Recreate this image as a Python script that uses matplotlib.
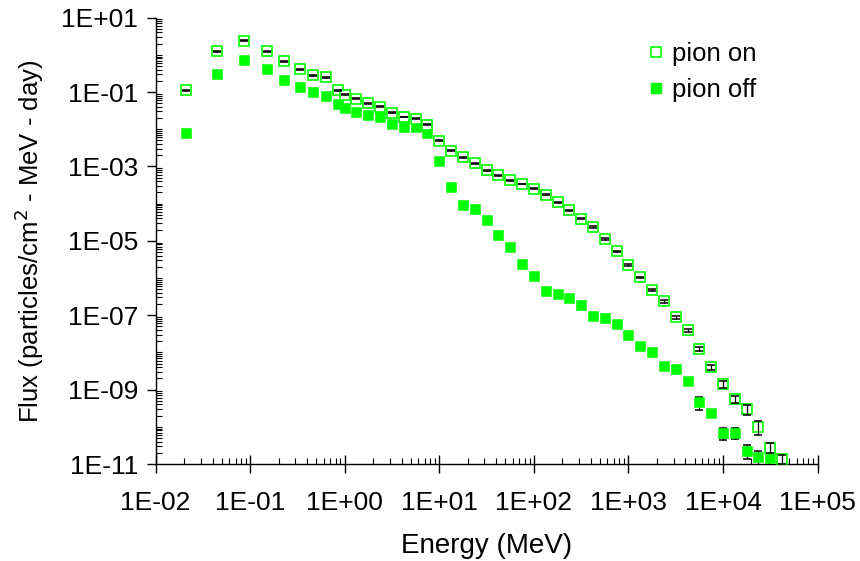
import numpy as np
import matplotlib
matplotlib.use("Agg")
import matplotlib.pyplot as plt
from matplotlib.ticker import FixedLocator, LogLocator, FuncFormatter, NullFormatter
from matplotlib.lines import Line2D

plt.rcParams['font.family'] = ['Liberation Sans', 'DejaVu Sans']

# ---- data ----
energy_on = [0.0211, 0.0443, 0.086, 0.150, 0.230, 0.337, 0.467, 0.640, 0.857,
             1.0, 1.33, 1.78, 2.37, 3.16, 4.22, 5.62, 7.50,
             10.0, 13.3, 17.8, 23.7, 31.6, 42.2, 56.2, 75.0,
             100, 133, 178, 237, 316, 422, 562, 750,
             1000, 1330, 1780, 2370, 3160, 4220, 5620, 7500,
             10000, 13300, 17800, 23700, 31600, 42200]
flux_on = [0.113, 1.26, 2.39, 1.26, 0.668, 0.415, 0.286, 0.253, 0.111,
           0.0851, 0.0661, 0.0501, 0.0403, 0.0278, 0.0213, 0.0192, 0.0132,
           4.91e-3, 2.64e-3, 1.76e-3, 1.21e-3, 8.0e-4, 5.75e-4, 4.31e-4, 3.37e-4,
           2.51e-4, 1.73e-4, 1.10e-4, 6.61e-5, 3.93e-5, 2.31e-5, 1.12e-5, 5.22e-6,
           2.28e-6, 1.04e-6, 4.84e-7, 2.34e-7, 8.79e-8, 4.0e-8, 1.21e-8, 3.97e-9,
           1.42e-9, 5.48e-10, 2.95e-10, 1.01e-10, 2.75e-11, 1.35e-11]
relerr_on = [0.03] * 9 + [0.03] * 8 + [0.03] * 8 + \
            [0.03, 0.03, 0.03, 0.04, 0.04, 0.05, 0.05, 0.05] + \
            [0.05, 0.05, 0.06, 0.07, 0.09, 0.09, 0.12, 0.15] + \
            [0.22, 0.22, 0.30, 0.42, 0.30, 0.27]

energy_off = energy_on[:-1]
flux_off = [7.76e-3, 0.310, 0.711, 0.407, 0.210, 0.139, 0.0982, 0.078, 0.0475,
            0.0363, 0.029, 0.0241, 0.0209, 0.0141, 0.0112, 0.0112, 7.76e-3,
            1.42e-3, 2.79e-4, 8.99e-5, 7.29e-5, 3.63e-5, 1.41e-5, 6.81e-6, 2.43e-6,
            1.15e-6, 4.47e-7, 3.72e-7, 2.84e-7, 1.88e-7, 9.5e-8, 8.41e-8, 5.92e-8,
            2.94e-8, 1.49e-8, 1.03e-8, 4.4e-9, 3.52e-9, 1.70e-9, 4.56e-10, 2.40e-10,
            6.93e-11, 6.93e-11, 2.29e-11, 1.58e-11, 1.48e-11]
relerr_off = [0.03] * 38 + [0.10, 0.37, 0.15, 0.35, 0.33, 0.40, 0.45, 0.45]

labels = ["pion on", "pion off"]
green = "#00ff00"

fig = plt.figure(figsize=(8.6, 5.61), dpi=100)
ax = fig.add_axes([0.181, 0.1729, 0.9506 - 0.181, 0.9686 - 0.1729])

e_on = np.array(energy_on); f_on = np.array(flux_on); r_on = np.array(relerr_on)
e_off = np.array(energy_off); f_off = np.array(flux_off); r_off = np.array(relerr_off)

# pion off: error bars beneath filled markers
ax.errorbar(e_off, f_off, yerr=f_off * r_off, fmt='none', ecolor='black',
            elinewidth=0.9, capsize=3, capthick=1.1, zorder=2)
ax.plot(e_off, f_off, linestyle='none', marker='s', markersize=7.6,
        markerfacecolor=green, markeredgecolor=green, markeredgewidth=0.4, zorder=3)

# pion on: hollow markers with error bars visible inside
ax.plot(e_on, f_on, linestyle='none', marker='s', markersize=6.8,
        markerfacecolor='white', markeredgecolor=green, markeredgewidth=1.2, zorder=4)
ax.errorbar(e_on, f_on, yerr=f_on * r_on, fmt='none', ecolor='black',
            elinewidth=0.9, capsize=3, capthick=1.1, zorder=5)

ax.set_xscale('log')
ax.set_yscale('log')
ax.set_xlim(1e-2, 1e5)
ax.set_ylim(1e-11, 1e1)

def fmt(v, pos):
    e = int(round(np.log10(v)))
    return "1E%+03d" % e

ax.xaxis.set_major_locator(FixedLocator([10.0 ** k for k in range(-2, 6)]))
ax.xaxis.set_minor_locator(LogLocator(base=10, subs=np.arange(2, 10), numticks=50))
ax.yaxis.set_major_locator(FixedLocator([10.0 ** k for k in range(-11, 2, 2)]))
ax.yaxis.set_minor_locator(FixedLocator(
    [m * 10.0 ** k for k in range(-11, 1) for m in range(1, 10) if not (m == 1 and (k % 2 != 0))]))
ax.xaxis.set_major_formatter(FuncFormatter(fmt))
ax.yaxis.set_major_formatter(FuncFormatter(fmt))
ax.xaxis.set_minor_formatter(NullFormatter())
ax.yaxis.set_minor_formatter(NullFormatter())

ax.tick_params(axis='x', which='major', direction='inout', length=13, width=1.0,
               labelsize=19, pad=13)
ax.tick_params(axis='x', which='minor', direction='in', length=4.5, width=0.8)
ax.tick_params(axis='y', which='major', direction='out', length=6.5, width=1.0,
               labelsize=19, pad=6)
ax.tick_params(axis='y', which='minor', direction='in', length=4, width=0.8)

for s in ['top', 'right']:
    ax.spines[s].set_visible(False)
for s in ['left', 'bottom']:
    ax.spines[s].set_linewidth(1.0)

ax.set_xlabel("Energy (MeV)", fontsize=20, labelpad=13)
ax.set_ylabel("Flux (particles/cm$^2$ - MeV - day)", fontsize=18.5, labelpad=11)

handles = [Line2D([], [], linestyle='none', marker='s', markersize=6.8,
                  markerfacecolor='white', markeredgecolor=green, markeredgewidth=1.2),
           Line2D([], [], linestyle='none', marker='s', markersize=7.6,
                  markerfacecolor=green, markeredgecolor=green)]
ax.legend(handles, labels, loc='upper left', bbox_to_anchor=(646 / 860, 1 - 42 / 561),
          bbox_transform=fig.transFigure, frameon=False, fontsize=18.5,
          handlelength=0.8, handletextpad=0.2, borderpad=0, borderaxespad=0,
          labelspacing=0.45)

fig.savefig("out.png", dpi=100)
